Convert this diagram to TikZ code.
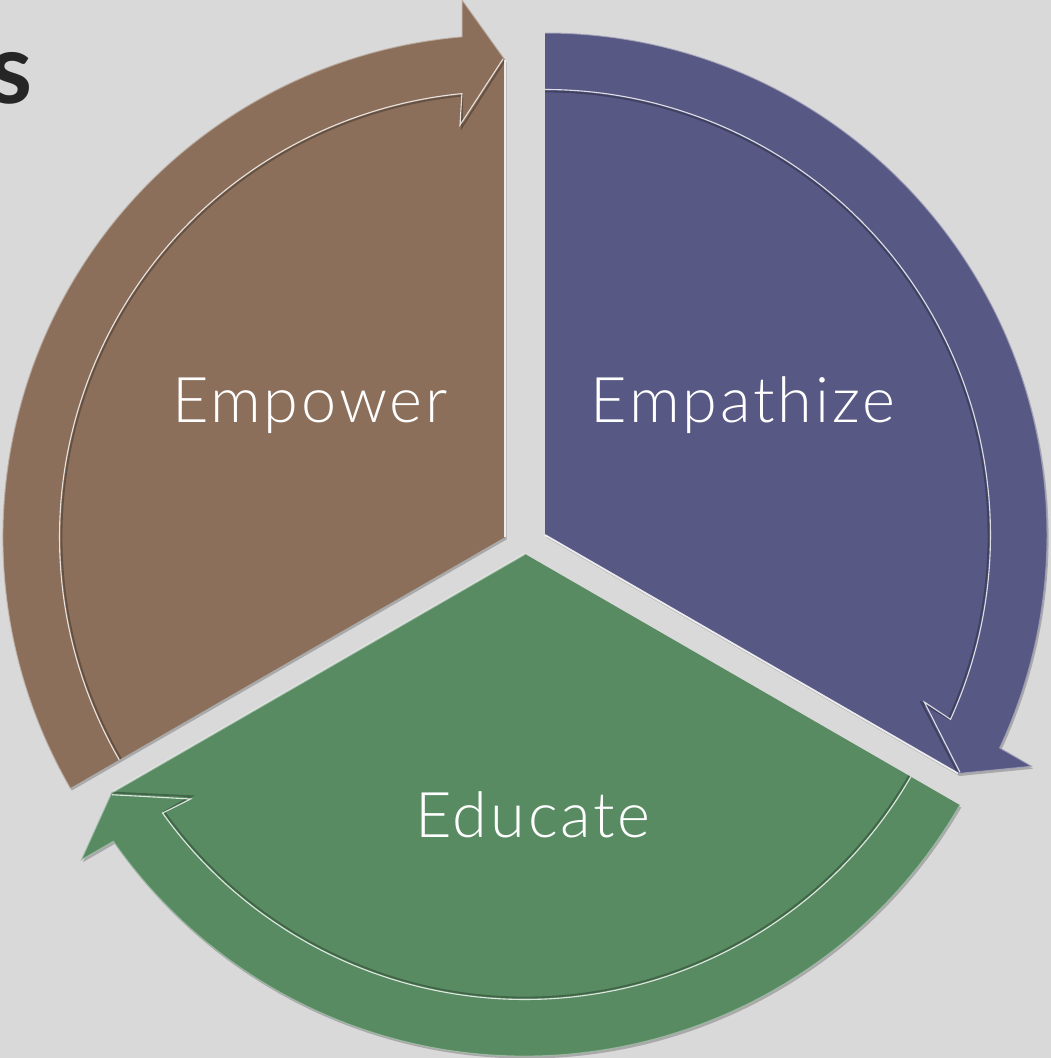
\documentclass[tikz,border=0pt]{standalone}
\usepackage{fontspec}
\newfontfamily\labfont{Lato Light}[LetterSpace=4.5]
\newfontfamily\titlefont{Lato}
\definecolor{bg}{HTML}{D9D9D9}
\definecolor{cbrown}{HTML}{8B6F5B}
\definecolor{cpurple}{HTML}{585884}
\definecolor{cgreen}{HTML}{588B62}
\definecolor{ctitle}{HTML}{262626}
\newcommand\cycseg[4]{%
  \begin{scope}[shift={#1}, xshift=1.5pt, yshift=-2.5pt, rotate=#2]
    \fill[black, opacity=0.22] (0,0) -- (477,0) -- (537,43) -- (4.91:502)
      arc[start angle=4.91, end angle=120, radius=502] -- cycle;
  \end{scope}
  \begin{scope}[shift={#1}, rotate=#2]
    \fill[#3] (0,0) -- (477,0) -- (537,43) -- (4.91:502)
      arc[start angle=4.91, end angle=120, radius=502] -- cycle;
    \draw[#3!55!white, line width=1pt, opacity=0.8] (120:502)
      arc[start angle=120, end angle=4.91, radius=502] -- (537,43) -- (477,0);
    \draw[#3!55!black, line width=1.8pt, opacity=0.6]
      (477,0) -- (410,43) -- (5.55:443.5) arc[start angle=5.55, end angle=120, radius=443.5];
    \draw[white, line width=1.1pt, opacity=0.8]
      (478,2) -- (412,45) -- (5.55:445.5) arc[start angle=5.55, end angle=120, radius=445.5];
    \draw[white, line width=1.8pt, opacity=#4] (0,0) -- (477,0);
  \end{scope}}
\begin{document}
\begin{tikzpicture}[x=1pt, y=1pt,
  lab/.style={text=white, inner sep=0pt, anchor=base, font=\labfont\fontsize{63}{70}\selectfont}]
  \useasboundingbox (0,0) rectangle (1051,-1058);
  \fill[bg] (0,0) rectangle (1051,-1058);
  \node[text=ctitle, inner sep=0pt, anchor=base east, font=\titlefont\bfseries\fontsize{98}{100}\selectfont] (title) at (33,-103) {s};
  \cycseg{(505,-537)}{90}{cbrown}{0.85}
  \cycseg{(545,-535)}{-30}{cpurple}{0.85}
  \cycseg{(525,-554)}{210}{cgreen}{0.45}
  \node[lab] (empower) at (310,-422) {Empower};
  \node[lab] (empathize) at (743,-422) {Empathize};
  \node[lab] (educate) at (533,-837) {Educate};
\end{tikzpicture}
\end{document}
